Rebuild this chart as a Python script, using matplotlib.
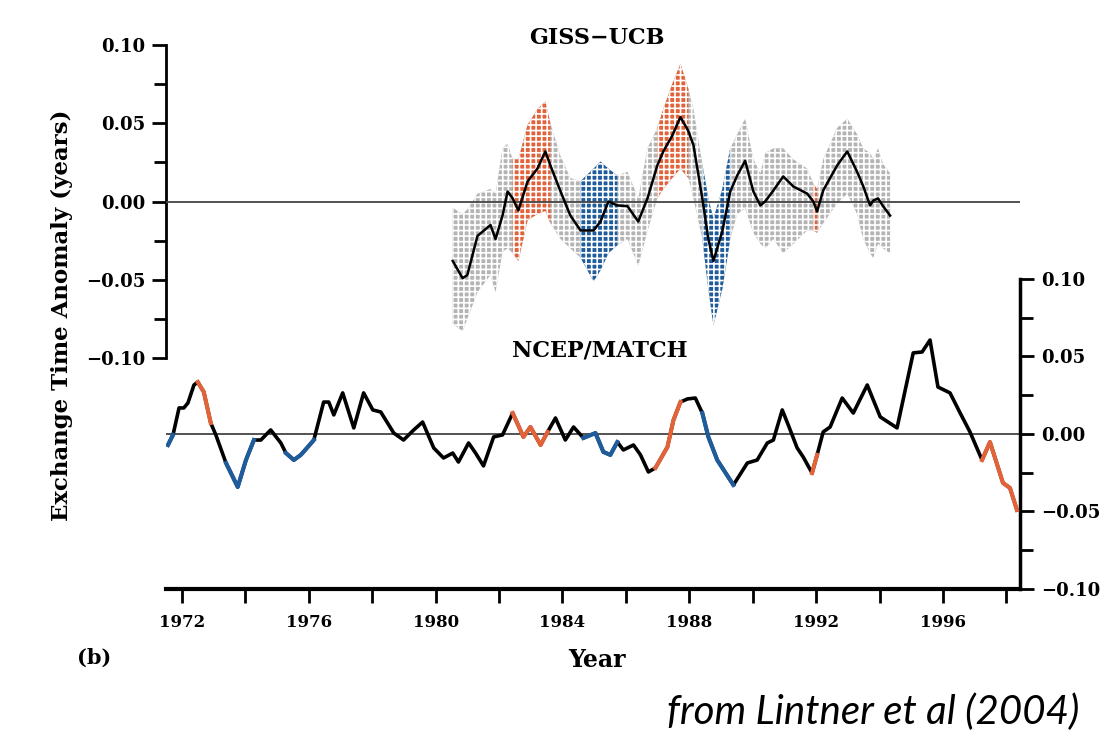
import numpy as np
import matplotlib
matplotlib.use("Agg")
import matplotlib.pyplot as plt

# GISS-UCB (top panel): knots
giss_year = [1980.54, 1980.85, 1981.00, 1981.32, 1981.73, 1981.89, 1982.11, 1982.27, 1982.43, 1982.61,
             1982.90, 1983.21, 1983.46, 1983.62, 1983.94, 1984.25, 1984.57, 1984.98, 1985.20, 1985.45,
             1985.73, 1986.05, 1986.39, 1986.68, 1986.99, 1987.18, 1987.46, 1987.72, 1987.97, 1988.13,
             1988.41, 1988.60, 1988.76, 1989.04, 1989.29, 1989.51, 1989.76, 1990.02, 1990.24, 1990.39,
             1990.65, 1990.96, 1991.28, 1991.72, 1991.91, 1992.03, 1992.22, 1992.66, 1992.98, 1993.29,
             1993.48, 1993.70, 1993.80, 1993.95, 1994.11, 1994.33]
giss_val = [-0.038, -0.049, -0.047, -0.022, -0.015, -0.024, -0.009, 0.0064, 0.002, -0.0057,
            0.0128, 0.021, 0.032, 0.023, 0.0064, -0.009, -0.0185, -0.0185, -0.0128, 0.0,
            -0.0025, -0.003, -0.0128, 0.002, 0.023, 0.032, 0.042, 0.054, 0.045, 0.036,
            0.002, -0.024, -0.038, -0.019, 0.0064, 0.0166, 0.026, 0.0064, -0.0025, 0.0,
            0.007, 0.016, 0.0096, 0.005, 0.0, -0.0064, 0.007, 0.023, 0.032, 0.019,
            0.010, -0.0025, 0.0006, 0.002, -0.003, -0.009]
giss_hi = [-0.004, -0.008, -0.005, 0.005, 0.008, 0.005, 0.034, 0.037, 0.027, 0.027,
           0.049, 0.059, 0.064, 0.050, 0.029, 0.015, 0.013, 0.021, 0.0255, 0.021,
           0.0166, 0.019, 0.002, 0.034, 0.047, 0.059, 0.075, 0.088, 0.072, 0.059,
           0.024, 0.002, -0.011, 0.008, 0.034, 0.043, 0.053, 0.027, 0.018, 0.031,
           0.034, 0.034, 0.027, 0.021, 0.0115, 0.008, 0.027, 0.047, 0.053, 0.043,
           0.034, 0.031, 0.027, 0.034, 0.024, 0.018]
giss_lo = [-0.078, -0.083, -0.075, -0.058, -0.047, -0.058, -0.032, -0.030, -0.033, -0.038,
           -0.012, -0.008, -0.006, -0.014, -0.024, -0.030, -0.036, -0.051, -0.044, -0.033,
           -0.028, -0.024, -0.041, -0.019, 0.002, 0.008, 0.015, 0.021, 0.015, 0.002,
           -0.024, -0.056, -0.079, -0.056, -0.024, -0.008, -0.0045, -0.020, -0.027, -0.030,
           -0.024, -0.033, -0.027, -0.0185, -0.0185, -0.020, -0.014, -0.0013, 0.005, -0.008,
           -0.024, -0.033, -0.036, -0.027, -0.030, -0.033]
giss_warm = [(1982.40, 1983.65), (1986.95, 1988.00), (1991.85, 1992.10)]
giss_cold = [(1984.55, 1985.75), (1988.40, 1989.30)]

# NCEP/MATCH (bottom panel)
ncep_year = [1971.56, 1971.72, 1971.91, 1972.06, 1972.19, 1972.38, 1972.50, 1972.69, 1972.91, 1973.07,
             1973.39, 1973.76, 1974.02, 1974.27, 1974.49, 1974.80, 1975.12, 1975.28, 1975.53, 1975.75,
             1975.97, 1976.16, 1976.47, 1976.63, 1976.79, 1977.07, 1977.42, 1977.73, 1978.02, 1978.27,
             1978.68, 1978.99, 1979.31, 1979.59, 1979.94, 1980.25, 1980.54, 1980.72, 1981.04, 1981.26,
             1981.51, 1981.83, 1982.11, 1982.43, 1982.77, 1982.99, 1983.31, 1983.53, 1983.78, 1984.09,
             1984.35, 1984.66, 1985.04, 1985.29, 1985.51, 1985.73, 1985.92, 1986.24, 1986.46, 1986.71,
             1986.93, 1987.31, 1987.50, 1987.72, 1987.94, 1988.19, 1988.41, 1988.60, 1988.88, 1989.39,
             1989.83, 1990.14, 1990.46, 1990.65, 1990.93, 1991.12, 1991.40, 1991.59, 1991.87, 1992.03,
             1992.22, 1992.44, 1992.82, 1993.17, 1993.61, 1994.02, 1994.55, 1995.06, 1995.34, 1995.59,
             1995.84, 1996.22, 1996.54, 1996.85, 1997.23, 1997.48, 1997.89, 1998.11, 1998.33]
ncep_val = [-0.0071, -0.0006, 0.0168, 0.0168, 0.0200, 0.0316, 0.0335, 0.0271, 0.0071, -0.0006,
            -0.0187, -0.0342, -0.0168, -0.0039, -0.0039, 0.0026, -0.0058, -0.0123, -0.0168, -0.0135,
            -0.0084, -0.0039, 0.0206, 0.0206, 0.0123, 0.0265, 0.0039, 0.0265, 0.0155, 0.0142,
            0.0006, -0.0039, 0.0026, 0.0077, -0.0090, -0.0155, -0.0123, -0.0181, -0.0058, -0.0123,
            -0.0206, -0.0019, -0.0006, 0.0135, -0.0019, 0.0045, -0.0071, 0.0013, 0.0103, -0.0039,
            0.0045, -0.0026, 0.0006, -0.0116, -0.0135, -0.0052, -0.0103, -0.0071, -0.0135, -0.0245,
            -0.0219, -0.0084, 0.0090, 0.0206, 0.0226, 0.0232, 0.0135, -0.0019, -0.0168, -0.0329,
            -0.0187, -0.0168, -0.0058, -0.0039, 0.0155, 0.0058, -0.0090, -0.0148, -0.0252, -0.0135,
            0.0013, 0.0045, 0.0232, 0.0135, 0.0316, 0.0110, 0.0039, 0.0523, 0.0529, 0.0606,
            0.0303, 0.0265, 0.0135, 0.0013, -0.0168, -0.0052, -0.0316, -0.0348, -0.0490]
ncep_warm = [(1972.45, 1972.95), (1982.40, 1983.55), (1986.90, 1987.75), (1991.80, 1992.05), (1997.20, 1998.40)]
ncep_cold = [(1971.50, 1971.75), (1973.35, 1974.30), (1975.25, 1976.20), (1984.60, 1985.75), (1988.40, 1989.40)]

year_ticks = [1972, 1976, 1980, 1984, 1988, 1992, 1996]
anom_ticks = [-0.1, -0.05, 0, 0.05, 0.1]
anom_labels = ['\u22120.10', '\u22120.05', '0.00', '0.05', '0.10']

RED = '#e2623a'
BLUE = '#1f5c9c'
GRAY = '#b4b4b4'

plt.rcParams['font.family'] = 'DejaVu Serif'
plt.rcParams['font.weight'] = 'bold'
plt.rcParams['hatch.linewidth'] = 1.2

fig = plt.figure(figsize=(11.04, 7.33), dpi=100)
xlim = (1971.5, 1998.43)

# ---- top panel ----
ax1 = fig.add_axes([0.1504, 0.5116, 0.7736, 0.4270])
ax1.patch.set_alpha(0)
gy = np.array(giss_year)
gv = np.array(giss_val)
gh = np.array(giss_hi)
gl = np.array(giss_lo)
ax1.fill_between(gy, gl, gh, facecolor=GRAY, edgecolor='white', hatch='+++', lw=0, zorder=1)
for (s, e) in giss_warm:
    m = (gy >= s) & (gy <= e)
    ax1.fill_between(gy[m], gl[m], gh[m], facecolor=RED, edgecolor='white', hatch='+++', lw=0, zorder=2)
for (s, e) in giss_cold:
    m = (gy >= s) & (gy <= e)
    ax1.fill_between(gy[m], gl[m], gh[m], facecolor=BLUE, edgecolor='white', hatch='+++', lw=0, zorder=2)
ax1.axhline(0, color='#444444', lw=1.3, zorder=3)
ax1.plot(gy, gv, color='black', lw=1.8, zorder=4)
ax1.set_xlim(*xlim)
ax1.set_ylim(-0.1, 0.1)
for sp in ['top', 'right', 'bottom']:
    ax1.spines[sp].set_visible(False)
ax1.spines['left'].set_linewidth(2)
ax1.set_xticks([])
ax1.set_yticks(anom_ticks)
ax1.set_yticklabels(anom_labels)
ax1.set_yticks([-0.075, -0.025, 0.025, 0.075], minor=True)
ax1.tick_params(axis='y', which='major', length=10, width=2, labelsize=13, pad=5)
ax1.tick_params(axis='y', which='minor', length=9, width=2)
fig.text(0.5408, 0.948, 'GISS\u2212UCB', ha='center', va='center', fontsize=16, fontweight='bold')

# ---- bottom panel ----
ax2 = fig.add_axes([0.1504, 0.1965, 0.7736, 0.4229])
ax2.patch.set_alpha(0)
ny = np.array(ncep_year)
nv = np.array(ncep_val)
ax2.axhline(0, color='#444444', lw=1.3, zorder=1)
ax2.plot(ny, nv, color='black', lw=2.6, zorder=3)
for (s, e) in ncep_warm:
    m = (ny >= s) & (ny <= e)
    ax2.plot(ny[m], nv[m], color=RED, lw=3, zorder=4)
for (s, e) in ncep_cold:
    m = (ny >= s) & (ny <= e)
    ax2.plot(ny[m], nv[m], color=BLUE, lw=3, zorder=4)
ax2.set_xlim(*xlim)
ax2.set_ylim(-0.1, 0.1)
for sp in ['top', 'left']:
    ax2.spines[sp].set_visible(False)
ax2.spines['bottom'].set_linewidth(3)
ax2.spines['right'].set_linewidth(2.5)
ax2.yaxis.tick_right()
ax2.set_yticks(anom_ticks)
ax2.set_yticklabels(anom_labels)
ax2.set_yticks([-0.075, -0.025, 0.025, 0.075], minor=True)
ax2.tick_params(axis='y', which='major', length=10, width=2, labelsize=13, pad=5)
ax2.tick_params(axis='y', which='minor', length=9, width=2)
ax2.set_xticks(year_ticks)
ax2.set_xticklabels([str(y) for y in year_ticks])
ax2.set_xticks([1974, 1978, 1982, 1986, 1990, 1994, 1998], minor=True)
ax2.tick_params(axis='x', which='major', length=10, width=2, labelsize=12, pad=8)
ax2.tick_params(axis='x', which='minor', length=10, width=2)
fig.text(0.5435, 0.5225, 'NCEP/MATCH', ha='center', va='center', fontsize=16, fontweight='bold')

fig.text(0.056, 0.57, 'Exchange Time Anomaly (years)', rotation=90, ha='center', va='center',
         fontsize=16.5, fontweight='bold')
fig.text(0.541, 0.099, 'Year', ha='center', va='center', fontsize=17, fontweight='bold')
fig.text(0.085, 0.103, '(b)', ha='center', va='center', fontsize=15, fontweight='bold')
fig.text(0.978, 0.029, 'from Lintner et al (2004)', ha='right', va='center',
         fontsize=29, fontstyle='italic', fontweight='normal', family=['Lato', 'DejaVu Sans'])

fig.savefig('out.png', dpi=100)
